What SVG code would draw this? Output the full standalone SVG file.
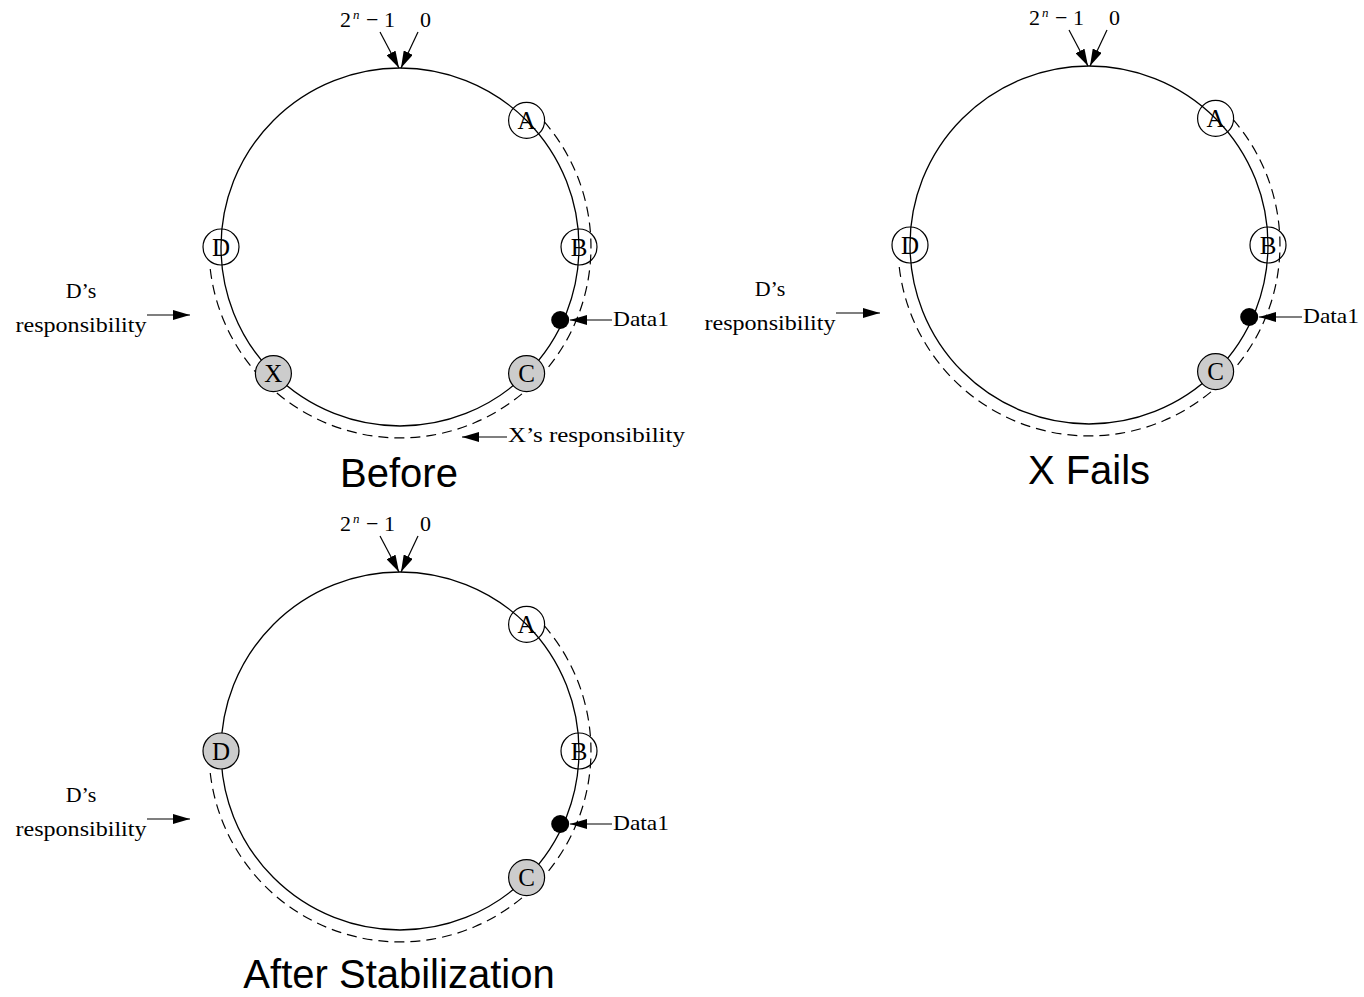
<svg xmlns="http://www.w3.org/2000/svg" width="1364" height="997" viewBox="0 0 1364 997">
<style>
.ring{fill:none;stroke:#000;stroke-width:1.3}
.dash{fill:none;stroke:#000;stroke-width:1.2;stroke-dasharray:10 6}
.node{fill:none;stroke:#000;stroke-width:1.2}
.gray{fill:#cccccc;stroke:#000;stroke-width:1.2}
.dot{fill:#000}
.arr{fill:none;stroke:#000;stroke-width:1.2;marker-end:url(#ah)}
.t{font-family:"Liberation Serif","Times New Roman",serif;font-size:22px;fill:#000}
.nl{font-family:"Liberation Serif","Times New Roman",serif;font-size:25px;fill:#000;text-anchor:middle}
.c{text-anchor:middle}
.title{font-family:"Liberation Sans",Arial,sans-serif;font-size:40px;fill:#000;text-anchor:middle}
.sup{font-size:13px;font-style:italic}
</style>
<defs>
<marker id="ah" markerUnits="userSpaceOnUse" markerWidth="17" markerHeight="10" refX="17" refY="5" orient="auto">
<path d="M0,0 L17,5 L0,10 z" fill="#000"/>
</marker>
</defs>

<g id="ring-before">
<circle class="ring" cx="400" cy="247" r="179"/>
<path class="dash" d="M544.2,121.7 A191,191 0 1 1 209.7,263.6"/>
</g>
<g id="ring-xfails">
<circle class="ring" cx="1089" cy="245" r="179"/>
<path class="dash" d="M1233.2,119.7 A191,191 0 1 1 898.7,261.6"/>
</g>
<g id="ring-after">
<circle class="ring" cx="400" cy="751" r="179"/>
<path class="dash" d="M544.2,625.7 A191,191 0 1 1 209.7,767.6"/>
</g>

<g id="connectors">
<line class="arr" x1="380" y1="32" x2="399" y2="68"/>
<line class="arr" x1="418" y1="32" x2="401" y2="68"/>
<line class="arr" x1="1069" y1="30" x2="1088" y2="66"/>
<line class="arr" x1="1107" y1="30" x2="1090" y2="66"/>
<line class="arr" x1="380" y1="536" x2="399" y2="572"/>
<line class="arr" x1="418" y1="536" x2="401" y2="572"/>
<line class="arr" x1="147" y1="315" x2="190" y2="315"/>
<line class="arr" x1="836" y1="313" x2="880" y2="313"/>
<line class="arr" x1="147" y1="819" x2="190" y2="819"/>
<line class="arr" x1="612" y1="320" x2="570" y2="320"/>
<line class="arr" x1="1302" y1="317" x2="1259" y2="317"/>
<line class="arr" x1="612" y1="824" x2="570" y2="824"/>
<line class="arr" x1="507" y1="437" x2="462" y2="437"/>
</g>

<g id="before-A"><circle class="node" cx="526.6" cy="120.4" r="18"/><text class="nl" x="526.6" y="129">A</text></g>
<g id="before-B"><circle class="node" cx="579" cy="247" r="18"/><text class="nl" x="579" y="255.6">B</text></g>
<g id="before-C"><circle class="gray" cx="526.6" cy="373.6" r="18"/><text class="nl" x="526.6" y="382.2">C</text></g>
<g id="before-X"><circle class="gray" cx="273.4" cy="373.6" r="18"/><text class="nl" x="273.4" y="382.2">X</text></g>
<g id="before-D"><circle class="node" cx="221" cy="247" r="18"/><text class="nl" x="221" y="255.6">D</text></g>
<g id="before-data1"><circle class="dot" cx="560.2" cy="320" r="9"/><text class="t" x="613" y="326" textLength="56" lengthAdjust="spacingAndGlyphs">Data1</text></g>

<g id="xfails-A"><circle class="node" cx="1215.6" cy="118.4" r="18"/><text class="nl" x="1215.6" y="127">A</text></g>
<g id="xfails-B"><circle class="node" cx="1268" cy="245" r="18"/><text class="nl" x="1268" y="253.6">B</text></g>
<g id="xfails-C"><circle class="gray" cx="1215.6" cy="371.6" r="18"/><text class="nl" x="1215.6" y="380.2">C</text></g>
<g id="xfails-D"><circle class="node" cx="910" cy="245" r="18"/><text class="nl" x="910" y="253.6">D</text></g>
<g id="xfails-data1"><circle class="dot" cx="1249.2" cy="317" r="9"/><text class="t" x="1303" y="323" textLength="56" lengthAdjust="spacingAndGlyphs">Data1</text></g>

<g id="after-A"><circle class="node" cx="526.6" cy="624.4" r="18"/><text class="nl" x="526.6" y="633">A</text></g>
<g id="after-B"><circle class="node" cx="579" cy="751" r="18"/><text class="nl" x="579" y="759.6">B</text></g>
<g id="after-C"><circle class="gray" cx="526.6" cy="877.6" r="18"/><text class="nl" x="526.6" y="886.2">C</text></g>
<g id="after-D"><circle class="gray" cx="221" cy="751" r="18"/><text class="nl" x="221" y="759.6">D</text></g>
<g id="after-data1"><circle class="dot" cx="560.2" cy="824" r="9"/><text class="t" x="613" y="830" textLength="56" lengthAdjust="spacingAndGlyphs">Data1</text></g>

<g id="labels">
<text class="t" y="27"><tspan x="340">2</tspan><tspan class="sup" x="353" y="19">n</tspan><tspan x="366" y="27">−</tspan><tspan x="384">1</tspan><tspan x="420">0</tspan></text>
<text class="t" y="25"><tspan x="1029">2</tspan><tspan class="sup" x="1042" y="17">n</tspan><tspan x="1055" y="25">−</tspan><tspan x="1073">1</tspan><tspan x="1109">0</tspan></text>
<text class="t" y="531"><tspan x="340">2</tspan><tspan class="sup" x="353" y="523">n</tspan><tspan x="366" y="531">−</tspan><tspan x="384">1</tspan><tspan x="420">0</tspan></text>

<text class="t c" x="81" y="298">D’s</text>
<text class="t c" x="81" y="332" textLength="131" lengthAdjust="spacingAndGlyphs">responsibility</text>
<text class="t c" x="770" y="296">D’s</text>
<text class="t c" x="770" y="330" textLength="131" lengthAdjust="spacingAndGlyphs">responsibility</text>
<text class="t c" x="81" y="802">D’s</text>
<text class="t c" x="81" y="836" textLength="131" lengthAdjust="spacingAndGlyphs">responsibility</text>
<text class="t" x="508" y="442" textLength="177" lengthAdjust="spacingAndGlyphs">X’s responsibility</text>

<text class="title" x="399" y="487">Before</text>
<text class="title" x="1089" y="484">X Fails</text>
<text class="title" x="399" y="988">After Stabilization</text>
</g>
</svg>
